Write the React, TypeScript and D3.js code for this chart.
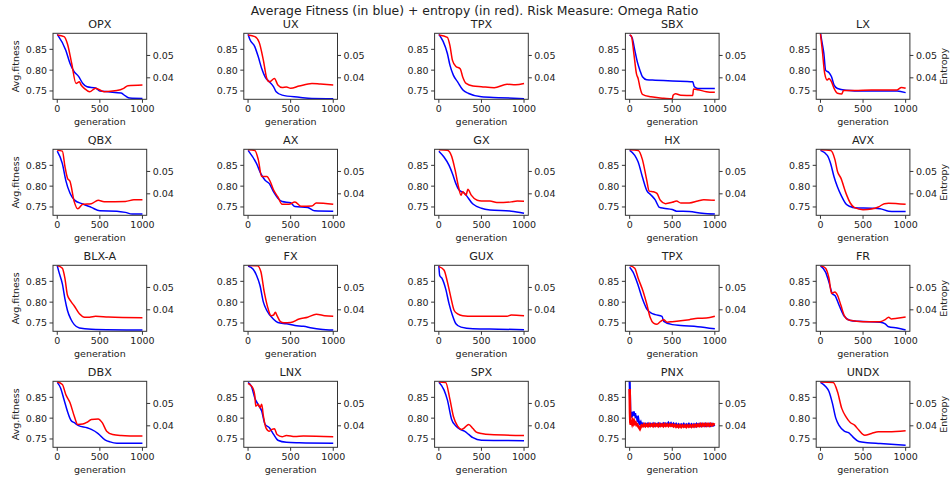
import React, { useEffect, useRef } from "react";
import * as d3 from "d3";

type Pt = [number, number];

// titles of the 20 panels, row by row
const names = ["OPX", "UX", "TPX", "SBX", "LX", "QBX", "AX", "GX", "HX", "AVX", "BLX-A", "FX", "GUX", "TPX", "FR", "DBX", "LNX", "SPX", "PNX", "UNDX"];

const fitTicks = [0.75, 0.8, 0.85];
const entTicks = [0.04, 0.05];
const genTicks = [0, 500, 1000];

// [generation, avg fitness] (blue) and [generation, entropy] (red)
const opxFit: Pt[] = [[0, .886], [100, .848], [150, .816], [200, .796], [250, .785], [300, .768], [350, .760], [450, .757], [500, .750], [600, .748], [750, .745], [800, .738], [850, .733], [1000, .732]];
const opxEnt: Pt[] = [[0, .0591], [80, .0584], [120, .0551], [170, .0463], [220, .0375], [260, .0382], [280, .0368], [320, .0352], [380, .0338], [450, .0353], [550, .0338], [700, .0343], [780, .0353], [830, .0365], [1000, .0368]];
const uxFit: Pt[] = [[0, .886], [20, .874], [80, .856], [120, .832], [160, .804], [200, .784], [250, .772], [300, .760], [330, .748], [400, .740], [600, .735], [750, .732], [1000, .7315]];
const uxEnt: Pt[] = [[0, .0591], [80, .0584], [130, .0559], [180, .0478], [220, .0397], [250, .0382], [310, .0397], [350, .0368], [400, .0357], [450, .0359], [500, .0353], [600, .0363], [750, .0375], [850, .0372], [1000, .0368]];
const tpxFit: Pt[] = [[0, .886], [50, .869], [100, .840], [130, .812], [170, .788], [220, .772], [280, .753], [350, .744], [500, .736], [700, .734], [1000, .7315]];
const tpxEnt: Pt[] = [[0, .0591], [100, .0581], [130, .0544], [160, .0478], [200, .0451], [250, .0441], [280, .0404], [320, .0375], [400, .0363], [500, .036], [650, .0356], [800, .0371], [900, .0369], [1000, .0375]];
const sbxFit: Pt[] = [[0, .885], [30, .877], [60, .848], [90, .820], [120, .800], [150, .784], [200, .777], [300, .776], [500, .774], [740, .772], [760, .760], [800, .756], [1000, .756]];
const sbxEnt: Pt[] = [[0, .0591], [20, .0587], [50, .0506], [80, .0418], [100, .0396], [120, .0359], [150, .0326], [250, .0315], [400, .0309], [500, .0306], [510, .0322], [540, .0329], [600, .0322], [740, .0321], [750, .035], [800, .0347], [900, .0338], [1000, .0335]];
const lxFit: Pt[] = [[0, .889], [20, .865], [40, .840], [60, .800], [100, .794], [130, .784], [160, .764], [200, .756], [300, .752], [500, .750], [900, .750], [1000, .746]];
const lxEnt: Pt[] = [[0, .0596], [20, .0529], [50, .0419], [80, .039], [100, .0397], [130, .0382], [160, .0353], [200, .0331], [250, .0328], [270, .0343], [400, .0343], [600, .0346], [900, .0346], [950, .0357], [1000, .0353]];

const qbxFit: Pt[] = [[0, .884], [60, .854], [100, .814], [150, .783], [200, .767], [300, .757], [400, .749], [500, .741], [700, .740], [800, .737], [880, .733], [1000, .733]];
const qbxEnt: Pt[] = [[0, .0595], [60, .0591], [90, .0523], [120, .047], [150, .0455], [200, .0364], [240, .0333], [300, .0353], [400, .0356], [480, .0371], [550, .0365], [800, .0366], [900, .0373], [1000, .0373]];
const axFit: Pt[] = [[0, .886], [100, .854], [150, .830], [200, .814], [250, .806], [300, .786], [350, .771], [400, .763], [500, .760], [550, .751], [700, .749], [780, .741], [1000, .740]];
const axEnt: Pt[] = [[0, .0597], [80, .0594], [120, .0553], [160, .0477], [220, .0477], [260, .0455], [300, .0417], [350, .0386], [400, .0353], [480, .0353], [550, .0364], [620, .0345], [750, .0346], [800, .0359], [1000, .0353]];
const gxFit: Pt[] = [[0, .884], [60, .870], [120, .850], [160, .830], [200, .806], [240, .790], [300, .783], [400, .757], [500, .747], [600, .743], [850, .740], [1000, .735]];
const gxEnt: Pt[] = [[0, .0597], [100, .0595], [150, .0568], [190, .0508], [230, .0432], [260, .0394], [280, .0409], [320, .0394], [340, .042], [380, .0394], [450, .0371], [500, .0368], [600, .0368], [680, .0361], [850, .0364], [920, .0368], [1000, .0367]];
const hxFit: Pt[] = [[0, .886], [60, .874], [100, .858], [150, .822], [200, .790], [250, .779], [300, .767], [350, .749], [400, .747], [500, .744], [550, .740], [700, .739], [850, .735], [1000, .733]];
const hxEnt: Pt[] = [[0, .0597], [100, .0594], [150, .0553], [200, .0462], [230, .0412], [280, .0409], [320, .0402], [360, .0371], [420, .0356], [500, .0362], [550, .0368], [600, .0359], [700, .0359], [800, .0368], [870, .0374], [1000, .0371]];
const avxFit: Pt[] = [[0, .886], [80, .874], [120, .854], [160, .822], [200, .798], [250, .775], [300, .757], [350, .751], [400, .748], [600, .747], [700, .746], [800, .740], [1000, .739]];
const avxEnt: Pt[] = [[0, .0597], [120, .0594], [170, .0553], [200, .050], [240, .047], [300, .0402], [350, .0359], [400, .0338], [500, .0329], [600, .0332], [680, .0341], [750, .0356], [800, .0358], [1000, .0353]];

const blxFit: Pt[] = [[0, .887], [20, .872], [60, .844], [90, .808], [120, .780], [160, .759], [200, .746], [260, .738], [400, .735], [1000, .733]];
const blxEnt: Pt[] = [[0, .0598], [60, .0586], [90, .0541], [120, .0465], [160, .0438], [200, .0417], [260, .0382], [320, .0367], [380, .0367], [450, .0371], [600, .0368], [1000, .0365]];
const fxFit: Pt[] = [[0, .887], [60, .879], [100, .864], [140, .840], [180, .800], [220, .780], [300, .759], [350, .751], [450, .748], [550, .744], [650, .742], [750, .738], [850, .735], [1000, .733]];
const fxEnt: Pt[] = [[0, .0598], [110, .0597], [150, .0571], [190, .048], [230, .0412], [270, .0374], [300, .0377], [320, .0389], [340, .0374], [380, .0347], [420, .0342], [500, .0343], [600, .0359], [700, .0367], [800, .038], [900, .0374], [1000, .0371]];
const guxFit: Pt[] = [[0, .887], [10, .864], [40, .856], [80, .832], [120, .796], [160, .768], [200, .748], [260, .740], [400, .736], [700, .735], [1000, .734]];
const guxEnt: Pt[] = [[0, .0593], [60, .0578], [100, .0525], [140, .0457], [180, .0397], [220, .0382], [280, .0374], [400, .0371], [800, .0371], [850, .0377], [1000, .0374]];
const tpx2Fit: Pt[] = [[0, .884], [40, .872], [100, .840], [150, .808], [200, .784], [250, .774], [300, .770], [380, .766], [400, .754], [500, .746], [600, .744], [800, .741], [1000, .736]];
const tpx2Ent: Pt[] = [[0, .0598], [60, .0586], [100, .0541], [160, .048], [200, .0427], [240, .0367], [280, .0341], [320, .0336], [360, .0347], [400, .0356], [440, .0345], [500, .0347], [600, .0351], [700, .0356], [800, .0362], [900, .0363], [1000, .0371]];
const frFit: Pt[] = [[0, .887], [60, .872], [100, .848], [140, .820], [170, .816], [220, .792], [280, .766], [350, .756], [450, .754], [700, .752], [760, .748], [800, .741], [900, .738], [1000, .733]];
const frEnt: Pt[] = [[0, .0598], [60, .0586], [100, .0541], [130, .0473], [170, .048], [200, .0465], [240, .042], [280, .0374], [320, .0356], [400, .035], [500, .0347], [700, .0347], [760, .0356], [800, .0367], [830, .0359], [900, .0362], [1000, .0368]];

const dbxFit: Pt[] = [[0, .886], [40, .872], [80, .844], [120, .816], [160, .795], [200, .789], [250, .782], [350, .777], [400, .773], [480, .763], [560, .748], [620, .743], [700, .740], [1000, .740]];
const dbxEnt: Pt[] = [[0, .0596], [60, .0585], [100, .054], [150, .0503], [200, .0443], [240, .0406], [300, .0408], [350, .0416], [400, .0428], [480, .0431], [530, .0413], [580, .0376], [650, .0361], [750, .0357], [1000, .0354]];
const lnxFit: Pt[] = [[0, .886], [40, .876], [80, .848], [120, .832], [160, .817], [200, .785], [250, .777], [300, .761], [350, .747], [450, .742], [600, .741], [1000, .740]];
const lnxEnt: Pt[] = [[0, .059], [30, .0581], [60, .0566], [80, .0533], [90, .0488], [120, .0496], [140, .0481], [160, .0496], [180, .0443], [210, .0391], [250, .0376], [280, .0384], [310, .0387], [340, .0361], [400, .0351], [450, .0357], [550, .0352], [650, .0354], [1000, .0351]];
const spxFit: Pt[] = [[0, .886], [60, .868], [100, .844], [150, .797], [200, .781], [250, .773], [300, .769], [350, .761], [400, .753], [500, .747], [1000, .746]];
const spxEnt: Pt[] = [[0, .0596], [80, .0594], [130, .0518], [170, .0443], [220, .0399], [270, .0384], [300, .0391], [350, .0406], [400, .0388], [440, .0372], [500, .0366], [600, .0361], [1000, .0357]];
const pnxFit: Pt[] = [[0, .890], [4, .85], [8, .815], [12, .80], [18, .812], [25, .803], [32, .815], [40, .806], [48, .816], [56, .805], [64, .812], [72, .80], [80, .806], [90, .796], [100, .80], [110, .789], [120, .786], [130, .79], [140, .783], [155, .787], [170, .782], [185, .786], [200, .783], [215, .787], [230, .782], [245, .786], [260, .783], [275, .787], [290, .782], [305, .786], [320, .783], [335, .787], [350, .782], [365, .786], [380, .783], [395, .787], [410, .783], [425, .787], [440, .784], [455, .789], [470, .784], [485, .788], [500, .783], [515, .787], [530, .782], [545, .786], [560, .781], [575, .785], [590, .781], [605, .785], [620, .782], [635, .786], [650, .781], [665, .785], [680, .782], [695, .786], [710, .781], [725, .785], [740, .781], [755, .785], [770, .781], [785, .786], [800, .782], [815, .786], [830, .782], [845, .786], [860, .782], [875, .786], [890, .782], [905, .786], [920, .782], [935, .786], [950, .782], [965, .786], [980, .782], [1000, .784]];
const pnxEnt: Pt[] = [[0, .0565], [4, .046], [8, .0415], [14, .0405], [20, .0420], [28, .0410], [36, .0422], [44, .0412], [52, .0420], [60, .0410], [70, .0414], [80, .0404], [90, .0406], [100, .0398], [110, .0392], [120, .0386], [130, .0395], [140, .0402], [155, .0398], [170, .0407], [185, .0399], [200, .0406], [215, .0399], [230, .0407], [245, .0400], [260, .0406], [275, .0399], [290, .0407], [305, .0400], [320, .0406], [335, .0399], [350, .0407], [365, .0400], [380, .0406], [395, .0399], [410, .0407], [425, .0400], [440, .0406], [455, .0399], [470, .0406], [485, .0400], [500, .0405], [515, .0398], [530, .0404], [545, .0396], [560, .0402], [575, .0395], [590, .0402], [605, .0395], [620, .0402], [635, .0396], [650, .0402], [665, .0395], [680, .0402], [695, .0396], [710, .0402], [725, .0396], [740, .0403], [755, .0397], [770, .0404], [785, .0398], [800, .0405], [815, .0399], [830, .0407], [845, .0400], [860, .0408], [875, .0401], [890, .0408], [905, .0401], [920, .0408], [935, .0401], [950, .0408], [965, .0402], [980, .0408], [1000, .0405]];
const undxFit: Pt[] = [[0, .886], [60, .876], [100, .864], [140, .836], [180, .800], [220, .782], [280, .769], [330, .765], [380, .755], [450, .744], [550, .741], [700, .739], [1000, .735]];
const undxEnt: Pt[] = [[0, .0596], [150, .0594], [200, .0552], [250, .0478], [300, .044], [350, .0415], [400, .0403], [450, .0381], [520, .0358], [600, .0366], [680, .0373], [800, .0373], [1000, .0378]];

const fitness = [opxFit, uxFit, tpxFit, sbxFit, lxFit, qbxFit, axFit, gxFit, hxFit, avxFit, blxFit, fxFit, guxFit, tpx2Fit, frFit, dbxFit, lnxFit, spxFit, pnxFit, undxFit];
const entropy = [opxEnt, uxEnt, tpxEnt, sbxEnt, lxEnt, qbxEnt, axEnt, gxEnt, hxEnt, avxEnt, blxEnt, fxEnt, guxEnt, tpx2Ent, frEnt, dbxEnt, lnxEnt, spxEnt, pnxEnt, undxEnt];

const W = 951;
const H = 479;
const FONT = "DejaVu Sans, sans-serif";

export default function App() {
  const ref = useRef<SVGSVGElement>(null);

  useEffect(() => {
    const svg = d3.select(ref.current);
    svg.selectAll("*").remove();

    svg.append("text")
      .attr("x", W / 2 - 1).attr("y", 14.5)
      .attr("text-anchor", "middle")
      .attr("font-size", 12.4)
      .text("Average Fitness (in blue) + entropy (in red). Risk Measure: Omega Ratio");

    const pw = 93.7, ph = 66;

    names.forEach((name, i) => {
      const row = Math.floor(i / 5), col = i % 5;
      const x0 = 53 + col * 190.8;
      const y0 = 33.3 + row * 116;

      const x = d3.scaleLinear().domain([-50, 1050]).range([x0, x0 + pw]);
      const yF = d3.scaleLinear().domain([0.7300, 0.8885]).range([y0 + ph, y0]);
      const yE = d3.scaleLinear().domain([0.0304, 0.0599]).range([y0 + ph, y0]);

      const g = svg.append("g");
      const clipId = "clip" + i;
      g.append("clipPath").attr("id", clipId)
        .append("rect").attr("x", x0).attr("y", y0).attr("width", pw).attr("height", ph);

      const noisy = name === "PNX";
      const lineF = d3.line<Pt>().x(d => x(d[0])).y(d => yF(d[1]))
        .curve(noisy ? d3.curveLinear : d3.curveMonotoneX);
      const lineE = d3.line<Pt>().x(d => x(d[0])).y(d => yE(d[1]))
        .curve(noisy ? d3.curveLinear : d3.curveMonotoneX);

      const plot = g.append("g").attr("clip-path", `url(#${clipId})`);
      plot.append("path").attr("d", lineF(fitness[i]))
        .attr("fill", "none").attr("stroke", "#0000ff").attr("stroke-width", noisy ? 2.2 : 1.5);
      plot.append("path").attr("d", lineE(entropy[i]))
        .attr("fill", "none").attr("stroke", "#ff0000").attr("stroke-width", noisy ? 2.6 : 1.5);

      // frame
      g.append("rect").attr("x", x0).attr("y", y0).attr("width", pw).attr("height", ph)
        .attr("fill", "none").attr("stroke", "#333").attr("stroke-width", 1);

      // left axis
      fitTicks.forEach(t => {
        g.append("line").attr("x1", x0 - 3.5).attr("x2", x0).attr("y1", yF(t)).attr("y2", yF(t))
          .attr("stroke", "#333");
        g.append("text").attr("x", x0 - 6).attr("y", yF(t) + 3.4)
          .attr("text-anchor", "end").attr("font-size", 9.5).text(t.toFixed(2));
      });
      // right axis
      entTicks.forEach(t => {
        g.append("line").attr("x1", x0 + pw).attr("x2", x0 + pw + 3.5).attr("y1", yE(t)).attr("y2", yE(t))
          .attr("stroke", "#333");
        g.append("text").attr("x", x0 + pw + 6).attr("y", yE(t) + 3.4)
          .attr("font-size", 9.5).text(t.toFixed(2));
      });
      // bottom axis
      genTicks.forEach(t => {
        g.append("line").attr("x1", x(t)).attr("x2", x(t)).attr("y1", y0 + ph).attr("y2", y0 + ph + 3.5)
          .attr("stroke", "#333");
        g.append("text").attr("x", x(t)).attr("y", y0 + ph + 13)
          .attr("text-anchor", "middle").attr("font-size", 9.5).text(t);
      });

      g.append("text").attr("x", x0 + pw / 2).attr("y", y0 + ph + 26)
        .attr("text-anchor", "middle").attr("font-size", 9.5).text("generation");
      g.append("text").attr("x", x0 + pw / 2).attr("y", y0 - 5.5)
        .attr("text-anchor", "middle").attr("font-size", 11.2).text(name);

      if (col === 0) {
        g.append("text")
          .attr("transform", `translate(19,${y0 + ph / 2}) rotate(-90)`)
          .attr("text-anchor", "middle").attr("font-size", 9.5).text("Avg.fitness");
      }
      if (col === 4) {
        g.append("text")
          .attr("transform", `translate(946.5,${y0 + ph / 2}) rotate(-90)`)
          .attr("text-anchor", "middle").attr("font-size", 9.5).text("Entropy");
      }
    });
  }, []);

  return (
    <svg ref={ref} width={W} height={H} fill="#222"
      style={{ display: "block", position: "absolute", left: 0, top: 0, fontFamily: FONT, background: "#fff" }} />
  );
}
